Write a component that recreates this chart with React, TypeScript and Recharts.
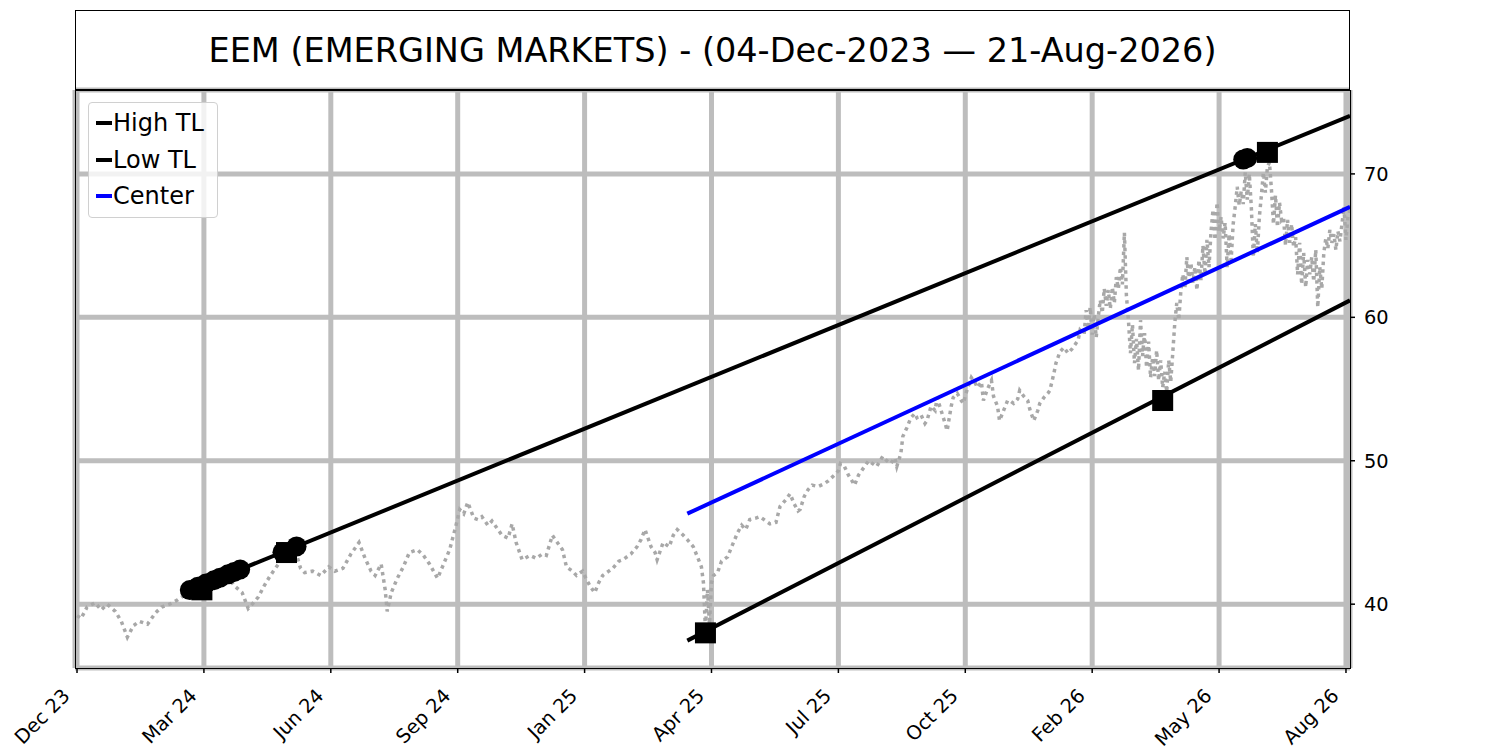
import React from 'react';
import {
  ComposedChart,
  Line,
  Scatter,
  XAxis,
  YAxis,
  CartesianGrid,
  ReferenceLine,
} from 'recharts';

// bar index (trading days since 04-Dec-2023) and close
const barIndex = [
  0, 2, 5, 9, 12, 15, 19, 22, 25, 28, 31, 35, 39, 42, 46, 50, 53, 56, 60, 64,
  67, 71, 75, 78, 82, 85, 87, 90, 93, 96, 98, 102, 105, 108, 111, 113, 117, 121, 125, 128,
  132, 136, 140, 143, 146, 148, 151, 153, 154, 156, 159, 162, 165, 169, 172, 175, 179, 182, 185, 188,
  190, 192, 194, 197, 199, 201, 204, 206, 209, 211, 214, 216, 218, 221, 225, 228, 231, 233, 236, 239,
  241, 243, 246, 248, 251, 253, 255, 257, 259, 261, 264, 266, 269, 271, 275, 278, 280, 282, 285, 287,
  288, 291, 294, 296, 298, 301, 303, 306, 308, 310, 311, 312, 313, 314, 315, 316, 318, 320, 323, 325,
  328, 330, 332, 334, 337, 339, 342, 344, 347, 349, 352, 354, 356, 358, 359, 361, 363, 365, 368, 371,
  373, 376, 378, 379, 381, 383, 386, 388, 391, 393, 395, 397, 400, 402, 404, 406, 407, 409, 410, 412,
  414, 416, 417, 419, 421, 422, 424, 426, 427, 429, 431, 432, 434, 435, 437, 439, 440, 442, 444, 446,
  447, 449, 450, 452, 454, 455, 457, 458, 460, 462, 463, 465, 467, 468, 470, 472, 473, 475, 477, 478,
  480, 482, 483, 485, 486, 487, 488, 490, 492, 494, 497, 498,
  500, 501, 502, 503, 504, 505, 506, 507, 508, 509, 510, 511, 512, 513, 514, 515, 516, 517, 518, 519,
  520, 521, 522, 523, 524, 525, 526, 527, 528, 529, 530, 531, 532, 533, 534, 535, 536, 537, 538, 539,
  540, 541, 542, 543, 544, 545, 546, 547, 548, 549, 550, 551, 552, 553, 554, 555, 556, 557, 558, 559,
  560, 561, 562, 563, 564, 565, 566, 567, 568, 569, 570, 571, 572, 573, 574, 575, 576, 577, 578, 579,
  580, 581, 582, 583, 584, 585, 586, 587, 588, 589, 590, 591, 592, 593, 594, 595, 596, 597, 598, 599,
  600, 601, 602, 603, 604, 605, 606, 607, 608, 609, 610, 611, 612, 613, 614, 615, 616, 617, 618, 619,
  620, 621, 622, 623, 624, 625, 626, 627, 628, 629, 630, 631, 632,
];

const closePrice = [
  39.2, 39.0, 39.8, 40.1, 39.6, 40.0, 39.5, 38.8, 37.7, 38.5, 38.8, 38.6, 39.4, 39.8, 40.0, 40.3, 40.6, 40.9, 41.2, 41.0,
  41.5, 41.7, 41.9, 41.3, 40.8, 39.7, 40.0, 40.5, 41.3, 42.0, 42.4, 43.2, 43.6, 43.9, 42.5, 42.2, 42.3, 42.0, 42.6, 42.3,
  42.5, 43.5, 44.3, 43.2, 42.3, 42.0, 42.8, 41.0, 39.5, 40.8, 41.8, 42.6, 43.6, 43.8, 43.4, 42.8, 41.8, 42.8, 43.8, 45.4,
  46.6, 46.3, 47.1, 46.0, 45.9, 46.1, 45.5, 45.8, 45.2, 44.8, 44.6, 45.6, 44.3, 43.1, 43.4, 43.2, 43.5, 43.4, 44.8, 44.2,
  43.8, 42.6, 42.3, 42.0, 42.3, 41.7, 41.2, 40.8, 41.5, 42.0, 42.3, 42.5, 43.0, 43.1, 43.5, 44.0, 44.5, 45.2, 44.0, 43.6,
  43.1, 44.3, 44.0, 44.8, 45.2, 44.8, 44.5, 44.0, 43.3, 42.6, 41.5, 38.2, 41.0, 38.6, 41.5, 42.0, 42.2, 43.0, 43.3, 44.0,
  45.0, 45.5, 45.2, 45.9, 46.0, 46.1, 45.8, 45.6, 45.7, 46.8, 47.3, 47.7, 47.0, 46.5, 46.6, 47.5, 48.0, 48.3, 48.2, 48.4,
  48.6, 49.0, 49.3, 49.8, 49.6, 49.0, 48.3, 49.0, 49.6, 50.0, 49.8, 49.6, 50.3, 50.0, 49.8, 50.2, 49.6, 50.5, 51.7, 52.3,
  53.0, 53.3, 53.0, 53.2, 52.6, 52.8, 53.8, 53.5, 54.4, 53.5, 52.6, 52.1, 53.8, 54.4, 54.7, 54.2, 54.0, 55.0, 55.8, 55.4,
  55.1, 55.5, 54.2, 55.0, 55.6, 54.5, 53.8, 52.8, 53.5, 54.2, 54.2, 54.0, 54.3, 54.9, 54.5, 54.2, 53.6, 52.8, 53.5, 54.0,
  54.4, 54.7, 54.9, 56.1, 56.8, 57.2, 57.6, 57.9, 57.5, 57.8, 58.4, 59.1,
  58.8, 60.5, 59.2, 60.7, 58.8, 60.2, 58.6, 60.0, 61.2, 60.3, 62.0, 60.8, 61.9, 60.6, 62.1, 61.0, 62.8, 62.0, 63.5, 62.3,
  65.9, 61.5, 59.8, 57.5, 59.5, 56.8, 58.5, 56.3, 59.8, 57.3, 58.9, 56.5, 58.3, 55.8, 57.2, 55.9, 57.7, 55.6, 57.0, 55.1,
  56.2, 54.8, 57.0, 55.5, 57.5, 59.6, 61.0, 59.8, 61.8, 63.0, 62.0, 64.2, 62.5, 63.8, 62.4, 63.5, 61.9, 64.0, 62.6, 65.0,
  63.0, 65.4, 63.5, 66.0, 67.5, 65.4, 68.0, 66.0, 67.0, 65.5, 66.6, 63.5, 65.8, 64.0, 66.5, 67.7, 69.1, 67.8, 68.8, 67.9,
  70.1, 68.2, 70.0, 67.7, 64.2, 66.5, 64.5, 67.0, 68.5, 70.1, 68.7, 70.5, 70.8, 68.9, 66.5, 68.5, 66.3, 68.0, 66.8, 67.0,
  65.0, 66.8, 65.2, 66.5, 64.9, 65.6, 63.0, 65.2, 62.3, 64.5, 62.1, 64.0, 63.0, 64.2, 62.5, 64.7, 60.7, 63.5, 62.0, 64.5,
  65.5, 64.8, 66.1, 65.2, 65.8, 64.7, 66.0, 65.3, 66.5, 67.7, 65.4, 67.0, 67.5,
];

// x-axis ticks
const tickBars = [0, 63, 126, 189, 252, 315, 378, 441, 504, 567, 630];
const tickLabels = ['Dec 23', 'Mar 24', 'Jun 24', 'Sep 24', 'Jan 25', 'Apr 25', 'Jul 25', 'Oct 25', 'Feb 26', 'May 26', 'Aug 26'];
const yTicks = [40, 50, 60, 70];

// trend lines (start/end bar, start/end value)
const highTlBars = [54, 632];
const highTlValues = [40.87, 74.04];
const lowTlBars = [303, 632];
const lowTlValues = [37.46, 61.18];
const centerBars = [303, 632];
const centerValues = [46.31, 67.7];

// touch points
const pivotHighBars = [56, 60, 64, 68, 71, 75, 78, 81, 102, 109, 579, 581];
const pivotHighValues = [40.98, 41.21, 41.44, 41.67, 41.85, 42.08, 42.25, 42.42, 43.62, 44.03, 71.0, 71.11];
const pivotSquareBars = [62, 104, 312, 539, 591];
const pivotSquareValues = [41.0, 43.6, 38.0, 54.2, 71.5];

const legendItems = [
  { label: 'High TL', color: '#000000' },
  { label: 'Low TL', color: '#000000' },
  { label: 'Center', color: '#0000ff' },
];

const title = 'EEM (EMERGING MARKETS) - (04-Dec-2023 \u2014 21-Aug-2026)';

const priceRows = barIndex.map((i, k) => ({ i, y: closePrice[k] }));
const circleRows = pivotHighBars.map((i, k) => ({ i, y: pivotHighValues[k] }));
const squareRows = pivotSquareBars.map((i, k) => ({ i, y: pivotSquareValues[k] }));

const FONT = '"DejaVu Sans", sans-serif';

const XTick = (props: any) => {
  const { x, y, payload } = props;
  const idx = tickBars.indexOf(payload.value);
  return (
    <g transform={`translate(${x},${y})`}>
      <text
        x={0}
        y={0}
        transform="translate(-6, 22) rotate(-45)"
        textAnchor="end"
        fontSize={19.4}
        fontFamily={FONT}
        fill="#000"
      >
        {idx >= 0 ? tickLabels[idx] : ''}
      </text>
    </g>
  );
};

const CircleMark = (p: any) => <circle cx={p.cx} cy={p.cy} r={10} fill="#000" />;
const SquareMark = (p: any) => <rect x={p.cx - 10.5} y={p.cy - 10.5} width={21} height={21} fill="#000" />;

export default function App() {
  return (
    <div style={{ position: 'absolute', left: 0, top: 0, width: 1500, height: 750, background: '#fff', fontFamily: FONT }}>
      <ComposedChart
        width={1500}
        height={750}
        data={priceRows}
        margin={{ top: 90, right: 90, bottom: 12, left: 75 }}
      >
        <CartesianGrid stroke="#bdbdbd" strokeWidth={5} />
        <XAxis
          type="number"
          dataKey="i"
          domain={[-1, 632]}
          ticks={tickBars}
          allowDataOverflow
          height={70}
          tickSize={5}
          tickMargin={2}
          stroke="#000"
          tickLine={{ stroke: '#000', strokeWidth: 1.5 }}
          axisLine={false}
          tick={<XTick />}
        />
        <YAxis
          type="number"
          dataKey="y"
          orientation="right"
          domain={[35.55, 75.85]}
          ticks={yTicks}
          allowDataOverflow
          width={60}
          tickSize={5}
          tickMargin={9}
          axisLine={false}
          tickLine={{ stroke: '#000', strokeWidth: 1.5 }}
          tick={{ fill: '#000', fontSize: 19.4, fontFamily: FONT }}
        />
        <Line
          dataKey="y"
          type="linear"
          stroke="#a8a8a8"
          strokeWidth={3.5}
          strokeDasharray="3.5 4"
          dot={false}
          isAnimationActive={false}
        />
        <ReferenceLine
          segment={[{ x: highTlBars[0], y: highTlValues[0] }, { x: highTlBars[1], y: highTlValues[1] }]}
          stroke="#000"
          strokeWidth={4}
          ifOverflow="visible"
        />
        <ReferenceLine
          segment={[{ x: lowTlBars[0], y: lowTlValues[0] }, { x: lowTlBars[1], y: lowTlValues[1] }]}
          stroke="#000"
          strokeWidth={4}
          ifOverflow="visible"
        />
        <ReferenceLine
          segment={[{ x: centerBars[0], y: centerValues[0] }, { x: centerBars[1], y: centerValues[1] }]}
          stroke="#0000ff"
          strokeWidth={4}
          ifOverflow="visible"
        />
        <Scatter data={circleRows} dataKey="y" shape={CircleMark} isAnimationActive={false} />
        <Scatter data={squareRows} dataKey="y" shape={SquareMark} isAnimationActive={false} />
      </ComposedChart>

      {/* title box */}
      <div
        style={{
          position: 'absolute', left: 75, top: 10, width: 1275, height: 80, boxSizing: 'border-box',
          border: '1.5px solid #000', display: 'flex', alignItems: 'center', justifyContent: 'center',
          fontSize: 33.5, color: '#000',
        }}
      >
        {title}
      </div>

      {/* plot frame */}
      <div
        style={{
          position: 'absolute', left: 74.5, top: 89.5, width: 1276, height: 579, boxSizing: 'border-box',
          border: '1.5px solid #000', pointerEvents: 'none',
        }}
      />

      {/* legend */}
      <div
        style={{
          position: 'absolute', left: 88, top: 102, width: 130, height: 116, boxSizing: 'border-box',
          border: '1px solid #d0d0d0', borderRadius: 4, background: 'rgba(255,255,255,0.8)', paddingTop: 2,
        }}
      >
        {legendItems.map((it) => (
          <div key={it.label} style={{ display: 'flex', alignItems: 'center', height: 36.5, fontSize: 24, color: '#000' }}>
            <span style={{ display: 'inline-block', width: 16, height: 4, background: it.color, marginLeft: 7, marginRight: 1 }} />
            <span>{it.label}</span>
          </div>
        ))}
      </div>
    </div>
  );
}
